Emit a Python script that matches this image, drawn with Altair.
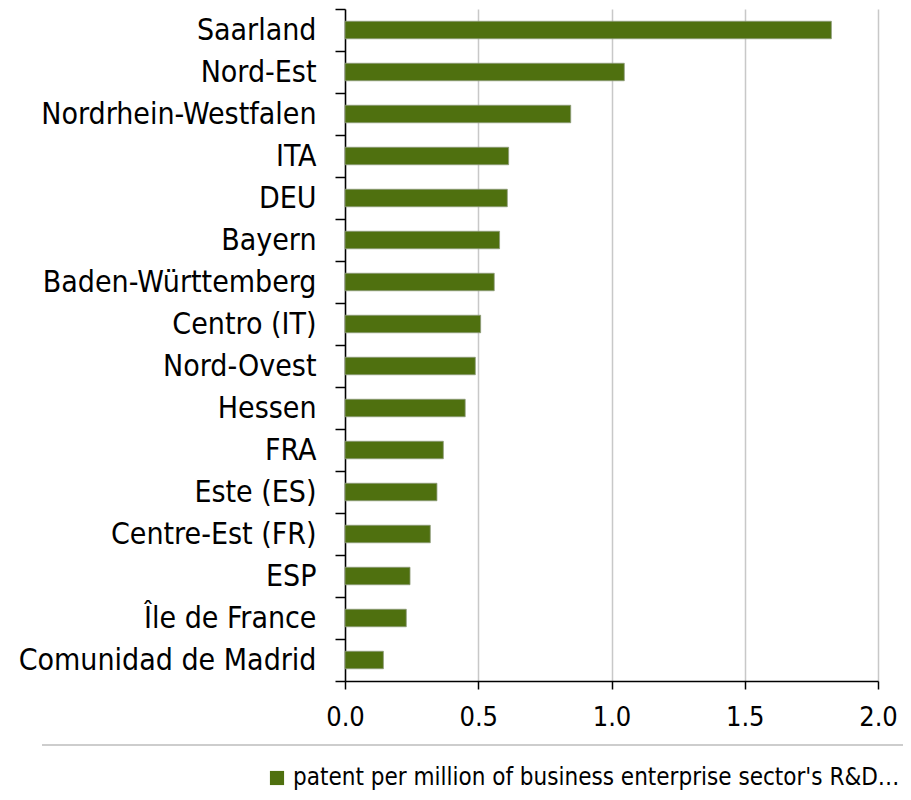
import altair as alt
import pandas as pd

regions = ["Saarland", "Nord-Est", "Nordrhein-Westfalen", "ITA", "DEU", "Bayern",
           "Baden-Württemberg", "Centro (IT)", "Nord-Ovest", "Hessen", "FRA",
           "Este (ES)", "Centre-Est (FR)", "ESP", "Île de France", "Comunidad de Madrid"]
values = [1.825, 1.048, 0.847, 0.614, 0.609, 0.580, 0.560, 0.509, 0.489, 0.451,
          0.369, 0.345, 0.320, 0.244, 0.230, 0.144]
series_name = "patent per million of business enterprise sector's R&D…"
x_ticks = [0.0, 0.5, 1.0, 1.5, 2.0]

FONT_C = "DejaVu Sans Condensed"
GREEN = "#4f700f"

df = pd.DataFrame({"region": regions, "value": values, "series": series_name})

bars = alt.Chart(df).mark_bar(size=17.5, stroke="#8d9a7a", strokeWidth=0.8).encode(
    y=alt.Y("region:N", sort=regions, title=None,
            scale=alt.Scale(paddingInner=0, paddingOuter=0),
            axis=alt.Axis(tickBand="extent", tickSize=10, tickColor="#000000",
                          tickWidth=1.5, domainColor="#000000", domainWidth=1.5,
                          labelFont=FONT_C, labelFontSize=30, labelColor="#000000",
                          labelPadding=19, labelLimit=400, grid=False)),
    x=alt.X("value:Q", title=None,
            scale=alt.Scale(domain=[0, 2.0], nice=False),
            axis=alt.Axis(values=x_ticks, format=".1f", tickSize=8,
                          tickColor="#000000", tickWidth=1.5,
                          domainColor="#000000", domainWidth=1.5,
                          gridColor="#c8c8c8", gridWidth=1.5,
                          labelFont=FONT_C, labelFontSize=27, labelColor="#000000",
                          labelPadding=15, labelFlush=False)),
    color=alt.Color("series:N",
                    scale=alt.Scale(domain=[series_name], range=[GREEN]),
                    legend=alt.Legend(title=None, orient="none", legendX=-80,
                                      legendY=757, symbolType="square",
                                      symbolSize=200, symbolStrokeWidth=0,
                                      labelFont=FONT_C, labelFontSize=24,
                                      labelColor="#000000", labelLimit=900,
                                      padding=0, labelOffset=4)),
)

box_line = alt.Chart(df).mark_rule(color="#cccccc", strokeWidth=1.5).encode(
    x=alt.value(-303), x2=alt.value(700), y=alt.value(736)
)

chart = alt.layer(box_line, bars).properties(
    width=533, height=672,
    autosize=alt.AutoSizeParams(type="none"),
    padding={"left": 337, "top": 1, "right": 25, "bottom": 111},
).configure_view(stroke=None)

chart.save("out.html", embed_options={"renderer": "svg", "actions": False})
